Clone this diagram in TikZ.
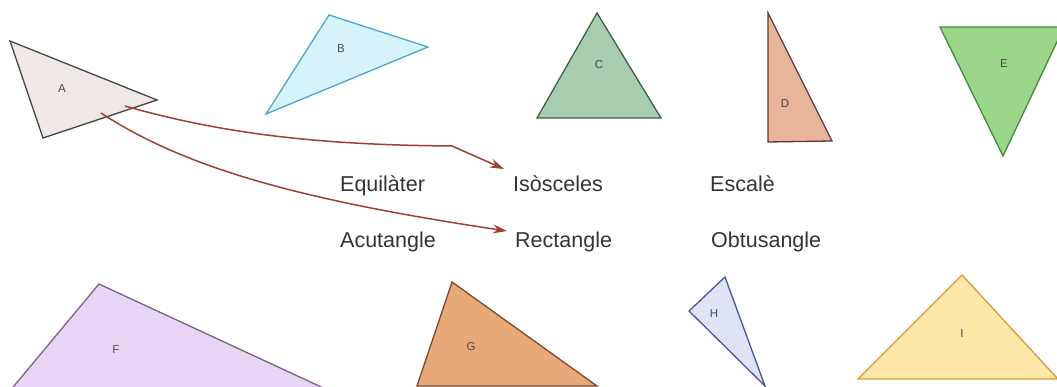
\documentclass[tikz,border=0pt]{standalone}
\usepackage{fontspec}
\setmainfont{Liberation Sans}
\usetikzlibrary{arrows.meta}
\definecolor{txt}{HTML}{333333}
\definecolor{lab}{HTML}{4A4A4A}
\definecolor{arr}{HTML}{A0402F}
\tikzset{
  tri/.style={line width=1.3pt, line join=miter},
  trilabel/.style={font=\fontsize{11.5}{12}\selectfont, text=lab, inner sep=0pt},
  word/.style={font=\fontsize{21.5}{24}\selectfont, text=txt, inner sep=0pt, anchor=base west},
  link/.style={draw=arr, line width=1.5pt, -{Stealth[length=14pt,width=9pt]}}
}
\begin{document}
\begin{tikzpicture}[x=1pt,y=-1pt]
\useasboundingbox (0,0) rectangle (1057,387);
\begin{scope}
\clip (0,0) rectangle (1057,387);
% triangles
\draw[tri, fill={rgb,255:red,240;green,232;blue,230}, draw={rgb,255:red,70;green,70;blue,70}] (10,41) -- (157,100) -- (43,138) -- cycle;
\draw[tri, fill={rgb,255:red,213;green,243;blue,248}, draw={rgb,255:red,74;green,168;blue,200}] (329,15) -- (428,47) -- (266,114) -- cycle;
\draw[tri, fill={rgb,255:red,169;green,205;blue,176}, draw={rgb,255:red,61;green,94;blue,69}] (597,13) -- (661,118) -- (537,118) -- cycle;
\draw[tri, fill={rgb,255:red,232;green,180;blue,154}, draw={rgb,255:red,90;green,58;blue,48}] (768,13) -- (832,141) -- (768,142) -- cycle;
\draw[tri, fill={rgb,255:red,155;green,214;blue,138}, draw={rgb,255:red,68;green,140;blue,62}] (940,27) -- (1064,27) -- (1003,156) -- cycle;
\draw[tri, fill={rgb,255:red,232;green,212;blue,244}, draw={rgb,255:red,122;green,101;blue,128}] (99,284) -- (345,398) -- (4,398) -- cycle;
\draw[tri, fill={rgb,255:red,232;green,168;blue,120}, draw={rgb,255:red,122;green,74;blue,48}] (452,282) -- (597,386) -- (417,386) -- cycle;
\draw[tri, fill={rgb,255:red,221;green,228;blue,245}, draw={rgb,255:red,74;green,85;blue,149}] (725,277) -- (765,386) -- (689,311) -- cycle;
\draw[tri, fill={rgb,255:red,253;green,232;blue,168}, draw={rgb,255:red,216;green,154;blue,58}] (962,275) -- (1058,379) -- (858,379) -- cycle;
\end{scope}
% triangle labels
\node[trilabel] (lA) at (62,89) {A};
\node[trilabel] (lB) at (341,49) {B};
\node[trilabel] (lC) at (599,65) {C};
\node[trilabel] (lD) at (785,104) {D};
\node[trilabel] (lE) at (1004,64) {E};
\node[trilabel] (lF) at (116,350) {F};
\node[trilabel] (lG) at (471,347) {G};
\node[trilabel] (lH) at (714,314) {H};
\node[trilabel] (lI) at (962,334) {I};
% words
\node[word] (equi) at (340,192) {Equilàter};
\node[word] (iso) at (513,192) {Isòsceles};
\node[word] (esc) at (710,192) {Escalè};
\node[word] (acu) at (340,248) {Acutangle};
\node[word] (rect) at (515,248) {Rectangle};
\node[word] (obt) at (711,248) {Obtusangle};
% arrows
\coordinate (s1) at (125,106);
\coordinate (s2) at (101,113);
\coordinate (e1) at (504,169);
\coordinate (e2) at (507,231);
\draw[link] (s1) .. controls (230,136) and (330,145) .. (452,146) -- (e1);
\draw[link] (s2) .. controls (185,168) and (300,200) .. (e2);
\end{tikzpicture}
\end{document}
